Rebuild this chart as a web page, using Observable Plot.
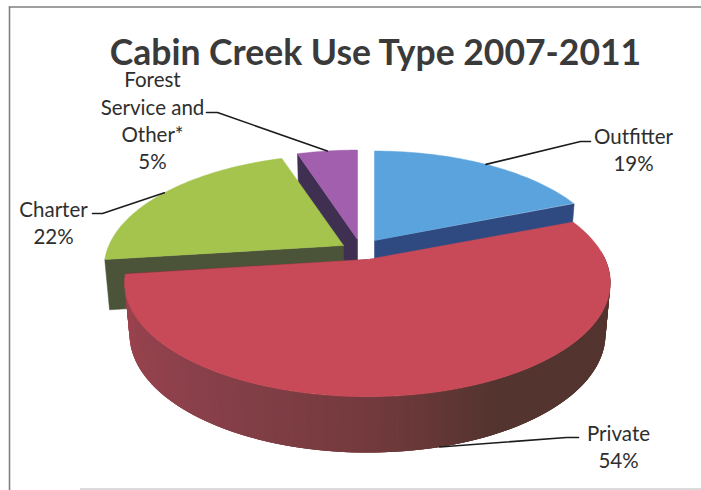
<!DOCTYPE html>
<html>
<head>
<meta charset="utf-8">
<script src="https://cdn.jsdelivr.net/npm/d3@7"></script>
<script src="https://cdn.jsdelivr.net/npm/@observablehq/plot@0.6"></script>
<style>
  html, body { margin: 0; padding: 0; background: #fff; }
  svg { display: block; }
</style>
</head>
<body>
<div id="chart"></div>
<script>
// Use shares, clockwise from twelve o'clock
const categories = ["Outfitter", "Private", "Charter", "Forest\nService and\nOther*"];
const shares = [19, 54, 22, 5];
const title = "Cabin Creek Use Type 2007-2011";

// Slice appearance
const topColors = ["#5aa3dc", "#c84a58", "#a5c44e", "#a15fae"];
const wallColors = ["#2f4a80", "#7a3a40", "#4b5438", "#3f2f50"];
const frontWallAngles = [262, 215, 180, 155];
const frontWallStops = ["#a0444f", "#88404a", "#733a3d", "#54342f"];

// Each exploded slice's apex on the page and its shift in depth
const apexX = [374, 367, 343, 357];
const apexY = [240, 259, 245, 239];
const apexDepth = [0.15, -0.1, 0.05, 0.15];
const radiusX = [237, 233, 237, 237];
const radiusY = [110, 107, 110, 110];
const drawOrder = [3, 0, 2, 1];

// Label placement: centre of the text block and the elbow of the leader
const labelX = [633, 618, 53, 152];
const labelY = [148, 445, 221, 119];
const elbowStartX = [590, 578, 92, 206];
const elbowStartY = [141, 437, 213, 112];
const elbowEndX = [580, 566, 102, 217];
const elbowEndY = [141, 437, 213, 112];

// Perspective camera of the pie
const thickness = 50, perspective = 0.2, taper = 0.98;

const rad = (deg) => deg * Math.PI / 180;
const total = d3.sum(shares);
const starts = shares.map((_, i) => d3.sum(shares.slice(0, i)) / total * 360);
const ends = shares.map((_, i) => d3.sum(shares.slice(0, i + 1)) / total * 360);

const scaleAt = (i, deg) => 1 / (1 + perspective * (Math.cos(rad(deg)) + apexDepth[i]));
const rimTop = (i, deg) => {
  const s = scaleAt(i, deg);
  return {x: apexX[i] + Math.sin(rad(deg)) * s * radiusX[i], y: apexY[i] - Math.cos(rad(deg)) * s * radiusY[i]};
};
const drop = (s) => thickness * Math.pow(s, 0.45);
const rimBottom = (i, deg) => {
  const p = rimTop(i, deg);
  return {x: apexX[i] + (p.x - apexX[i]) * taper, y: p.y + drop(scaleAt(i, deg))};
};
const apexTop = (i) => ({x: apexX[i], y: apexY[i]});
const apexBottom = (i) => {
  const s = 1 / (1 + perspective * apexDepth[i]);
  return {x: apexX[i], y: apexY[i] + drop(s)};
};

const polygon = (points, color, strokeWidth = 0.5) =>
  Plot.line([...points, points[0]], {x: "x", y: "y", fill: color, stroke: color, strokeWidth, curve: "linear"});

// Back to front: each slice paints its cut wall, then its outer wall, then its top
const pieMarks = [];
for (const i of drawOrder) {
  const a0 = starts[i], a1 = ends[i];
  const cutDeg = i === 2 || i === 3 ? a0 : a1;
  pieMarks.push(polygon([apexTop(i), rimTop(i, cutDeg), rimBottom(i, cutDeg), apexBottom(i)], wallColors[i]));
  if (i === 1) {
    const wallColor = d3.scaleLinear().domain(frontWallAngles).range(frontWallStops).clamp(true);
    // Overlapping strips, painted left to right, leave no seams
    for (let deg = a1; deg > a0 + 20; deg -= 1) {
      pieMarks.push(polygon(
        [rimTop(i, deg), rimTop(i, deg - 3), rimBottom(i, deg - 3), rimBottom(i, deg)],
        wallColor(deg), 0
      ));
    }
  }
  const arc = d3.range(a0, a1 + 0.001, 1).map((deg) => rimTop(i, deg));
  pieMarks.push(polygon([apexTop(i), ...arc], topColors[i]));
}

// Leaders run from the label elbow to the middle of each slice's rim
const leaderMarks = shares.map((_, i) => {
  const mid = (starts[i] + ends[i]) / 2;
  const anchor = i === 1 ? rimBottom(i, mid) : rimTop(i, mid);
  return Plot.line(
    [{x: elbowStartX[i], y: elbowStartY[i]}, {x: elbowEndX[i], y: elbowEndY[i]}, anchor],
    {x: "x", y: "y", stroke: "#1c1c1c", strokeWidth: 1.6}
  );
});

const labels = categories.map((name, i) => ({
  text: `${name}\n${shares[i]}%`, x: labelX[i], y: labelY[i]
}));

// Scanned page border: dark top and left rules, faint bottom rule
const frameLines = [
  [{x: 9, y: 6.5}, {x: 701, y: 6.5}],
  [{x: 9, y: 6.5}, {x: 9, y: 490}]
];
const bottomRule = [{x: 80, y: 488.5}, {x: 701, y: 488.5}];

const chart = Plot.plot({
  width: 701,
  height: 490,
  margin: 0,
  x: {type: "linear", domain: [0, 701], range: [0, 701], axis: null},
  y: {type: "linear", domain: [0, 490], range: [0, 490], axis: null},
  style: {background: "#fff", fontFamily: "Lato, sans-serif"},
  marks: [
    ...frameLines.map((l) => Plot.line(l, {x: "x", y: "y", stroke: "#808080", strokeWidth: 1.6})),
    Plot.line(bottomRule, {x: "x", y: "y", stroke: "#cfcfcf", strokeWidth: 1.4}),
    ...pieMarks,
    ...leaderMarks,
    Plot.text([title], {
      text: (d) => d, frameAnchor: "top-left", dx: 375, dy: 39,
      fontSize: 35.5, fontWeight: 700, fill: "#3a3a3a", textAnchor: "middle"
    }),
    Plot.text(labels, {
      x: "x", y: "y", text: "text", fontSize: 20.5, fill: "#2e2e2e",
      lineHeight: 1.33, lineAnchor: "middle", textAnchor: "middle"
    })
  ]
});
document.getElementById("chart").append(chart);
</script>
</body>
</html>
